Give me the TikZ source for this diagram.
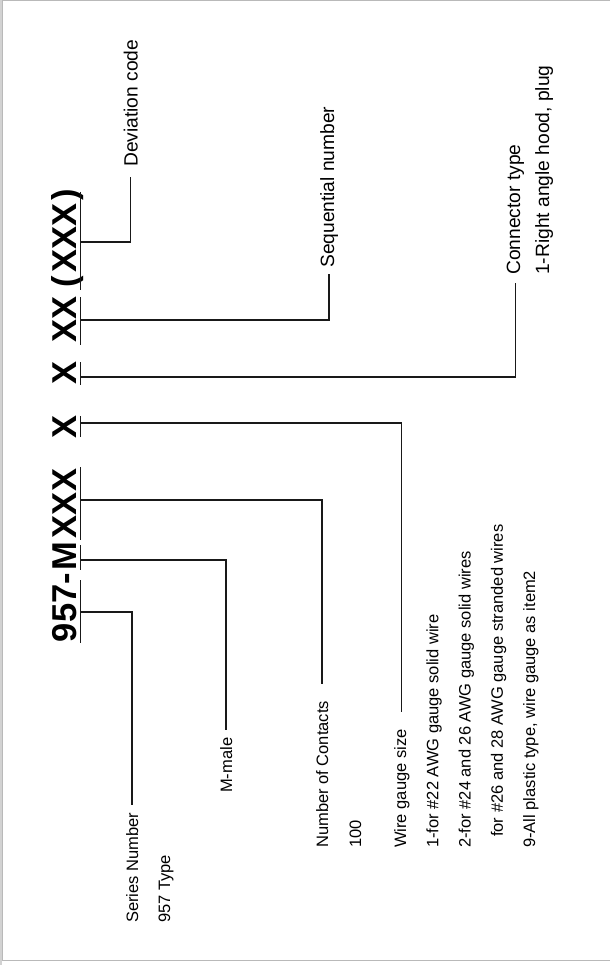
\documentclass[tikz,border=0pt]{standalone}
\usepackage{fontspec}
\setmainfont{Liberation Sans}
\begin{document}
\begin{tikzpicture}[x=1pt,y=-1pt,
  lbl/.style={rotate=90, anchor=base west, inner sep=0pt, font=\fontsize{16.5}{20}\selectfont},
  lblup/.style={lbl, font=\fontsize{19.2}{23}\selectfont},
  big/.style={rotate=90, anchor=base, inner sep=0pt, font=\fontsize{34.5}{42}\selectfont\bfseries},
  tickln/.style={line width=1.5pt, draw=black!90},
  conn/.style={line width=1.5pt, draw=black!90}]
\useasboundingbox (0,0) rectangle (610,965);
% frame
\draw[gray!55, line width=1pt] (610,1) -- (2.5,1) -- (2.5,960) -- (610,960);
\fill[gray!35] (0,0) rectangle (1.5,965);

% part number pieces
\node[big] (p957) at (76.5,607.5) {957-};
\node[big] (pM)   at (76.5,556) {M};
\node[big] (pXXX) at (76.5,503.5) {XXX};
\node[big] (pX1)  at (76.5,427) {X};
\node[big] (pX2)  at (76.5,373) {X};
\node[big] (pXX)  at (76.5,319) {XX};
\node[big] (pDev) at (76.5,238) {(\hspace{3pt}XXX\hspace{3pt})};

% tick lines
\draw[tickln] (80.5,580) -- (80.5,643);
\draw[tickln] (80.5,545) -- (80.5,570);
\draw[tickln] (80.5,467) -- (80.5,540);
\draw[tickln] (80.5,416) -- (80.5,437);
\draw[tickln] (80.5,362) -- (80.5,385);
\draw[tickln] (80.5,297) -- (80.5,345);
\draw[tickln] (80.5,192) -- (80.5,290);

\coordinate (k957) at (80.5,612);
\coordinate (kM)   at (80.5,560);
\coordinate (kXXX) at (80.5,500);
\coordinate (kX1)  at (80.5,423);
\coordinate (kX2)  at (80.5,377);
\coordinate (kXX)  at (80.5,320);
\coordinate (kDev) at (80.5,242);

% labels
\node[lbl] (sn)  at (138,923) {Series Number};
\node[lbl] (sn2) at (170,923) {957 Type};
\node[lbl] (mm)  at (232,793) {M-male};
\node[lbl] (nc)  at (328,848) {Number of Contacts};
\node[lbl] (nc2) at (361,848) {100};
\node[lbl] (wg)  at (406,848) {Wire gauge size};
\node[lbl] (wg1) at (438.3,848) {1-for \#22 AWG gauge solid wire};
\node[lbl] (wg2) at (470.6,848) {2-for \#24 and 26 AWG gauge solid wires};
\node[lbl] (wg3) at (502.9,837) {for \#26 and 28 AWG gauge stranded wires};
\node[lbl] (wg4) at (535.2,848) {9-All plastic type, wire gauge as item2};
\node[lblup] (ct)  at (520,275) {Connector type};
\node[lblup] (ct2) at (549,275) {1-Right angle hood, plug};
\node[lblup] (sq)  at (334,268) {Sequential number};
\node[lblup] (dc)  at (137.5,167) {Deviation code};

% connectors
\draw[conn, shorten >=8pt]  (k957) -| (sn.east);
\draw[conn, shorten >=8pt]  (kM)   -| (mm.east);
\draw[conn, shorten >=17pt] (kXXX) -| (nc.east);
\draw[conn, shorten >=17pt] (kX1)  -| (wg.east);
\draw[conn, shorten >=8pt]  (kX2)  -| (ct.west);
\draw[conn, shorten >=6pt]  (kXX)  -| (sq.west);
\draw[conn, shorten >=10pt] (kDev) -| (dc.west);
\end{tikzpicture}
\end{document}
